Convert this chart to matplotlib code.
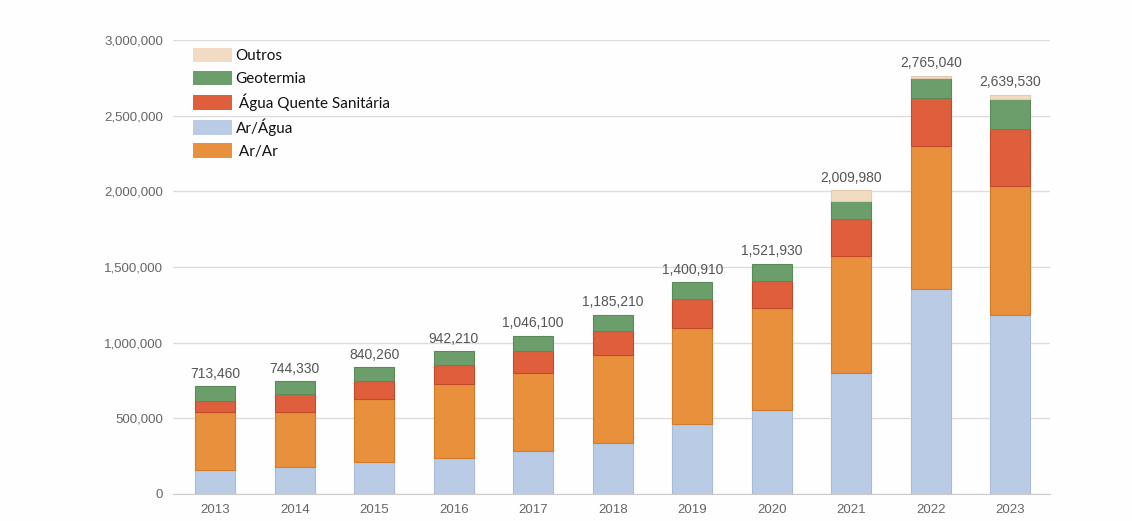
import matplotlib
matplotlib.use("Agg")
import matplotlib.pyplot as plt
from matplotlib.patches import Patch
import numpy as np

years = ["2013", "2014", "2015", "2016", "2017", "2018", "2019", "2020", "2021", "2022", "2023"]

ar_agua = [159000, 180000, 213000, 236000, 286000, 335000, 463000, 555000, 798000, 1357000, 1183000]
ar_ar = [381000, 364000, 413000, 489000, 516000, 584000, 632000, 676000, 775000, 943000, 853000]
agua_quente = [77000, 117000, 123000, 128000, 145000, 160000, 192000, 179000, 247000, 319000, 374000]
geotermia = [96460, 83330, 91260, 89210, 99100, 106210, 113910, 111930, 117000, 128000, 199000]
outros = [0, 0, 0, 0, 0, 0, 0, 0, 72980, 18040, 30530]

colors = {
    "Ar/Água": ("#bacbe6", "#a9bbd6"),
    "Ar/Ar": ("#e8903c", "#d07c2c"),
    "Água Quente Sanitária": ("#df5f3d", "#c24a2c"),
    "Geotermia": ("#6c9e6b", "#5a8a5a"),
    "Outros": ("#f1dcc3", "#e2cbb0"),
}

# stacking order, bottom to top
stack = [
    ("Ar/Água", ar_agua),
    ("Ar/Ar", ar_ar),
    ("Água Quente Sanitária", agua_quente),
    ("Geotermia", geotermia),
    ("Outros", outros),
]

plt.rcParams["font.family"] = ["Liberation Sans", "DejaVu Sans"]

fig = plt.figure(figsize=(11.32, 5.21), dpi=100)
fig.patch.set_facecolor("#fefefe")
ax = fig.add_axes([173 / 1132, (521 - 494) / 521, (1050 - 173) / 1132, (494 - 40) / 521])
ax.set_facecolor("#fefefe")

x = np.arange(len(years))
bottom = np.zeros(len(years))
for name, vals in stack:
    v = np.array(vals, dtype=float)
    face, edge = colors[name]
    lw = np.where(v > 0, 0.8, 0.0)
    ax.bar(x, v, width=0.5, bottom=bottom, color=face, edgecolor=edge,
           linewidth=lw, zorder=3)
    bottom += v

totals = bottom
for xi, t in zip(x, totals):
    ax.text(xi, t + 35000, f"{int(t):,}", ha="center", va="bottom",
            fontsize=10, color="#555555")

ax.set_xlim(-0.53, 10.5)
ax.set_ylim(0, 3000000)
ax.set_yticks(np.arange(0, 3000001, 500000))
ax.yaxis.set_major_formatter(matplotlib.ticker.FuncFormatter(lambda v, p: f"{int(v):,}"))
ax.set_xticks(x)
ax.set_xticklabels(years)
ax.tick_params(axis="both", length=0, labelsize=9.5, labelcolor="#666666")
ax.tick_params(axis="x", pad=7)
ax.tick_params(axis="y", pad=7)
ax.grid(axis="y", color="#dddddd", linewidth=1, zorder=0)
for s in ["top", "right", "left"]:
    ax.spines[s].set_visible(False)
ax.spines["bottom"].set_color("#cccccc")

legend_order = ["Outros", "Geotermia", "Água Quente Sanitária", "Ar/Água", "Ar/Ar"]
legend_text = ["Outros", "Geotermia", " Água Quente Sanitária", "Ar/Água", " Ar/Ar"]
handles = [Patch(facecolor=colors[n][0], edgecolor="none") for n in legend_order]
leg = ax.legend(handles, legend_text, loc="upper left", bbox_to_anchor=(0.012, 1.003),
                frameon=False, fontsize=11, handlelength=2.6, handleheight=1.1,
                handletextpad=0.2, labelspacing=0.48, borderaxespad=0.2)
for t in leg.get_texts():
    t.set_family(["Lato", "DejaVu Sans"])
    t.set_color("#111111")

fig.savefig("out.png", dpi=100, facecolor=fig.get_facecolor())
